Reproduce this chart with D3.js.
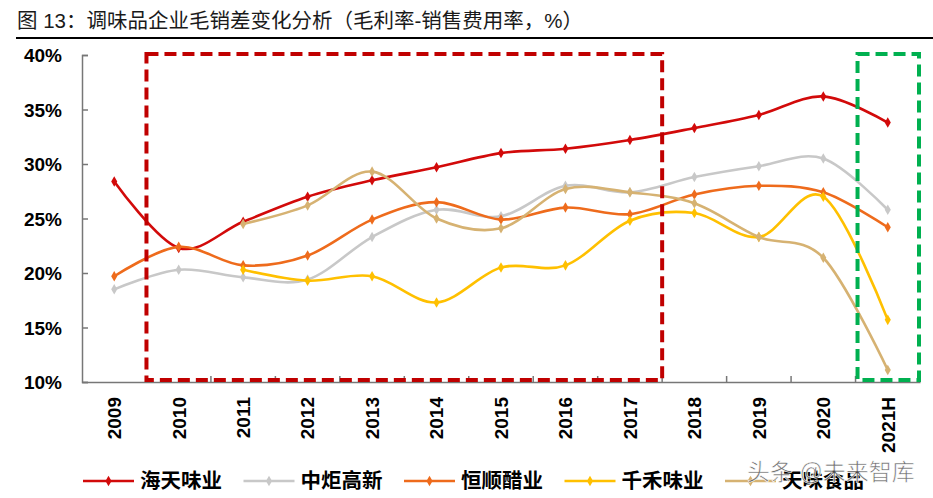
<!DOCTYPE html>
<html>
  <head>
    <meta charset="utf-8">
    <style>
      body { margin: 0; background: #fff; }
      text { font-family: "Liberation Sans", Arial, "Noto Sans CJK SC", sans-serif; }
    </style>
  </head>
  <body>
    <script src="https://d3js.org/d3.v7.min.js"></script>
    <script>
      // data
      var years = ["2009", "2010", "2011", "2012", "2013", "2014", "2015", "2016", "2017", "2018", "2019", "2020", "2021H"];
      var haitian = [28.4, 22.3, 24.7, 27.0, 28.5, 29.7, 31.0, 31.4, 32.2, 33.3, 34.5, 36.2, 33.8];
      var zhongju = [18.5, 20.3, 19.6, 19.4, 23.3, 25.8, 25.2, 28.0, 27.4, 28.8, 29.8, 30.5, 25.8];
      var hengshun = [19.7, 22.4, 20.7, 21.6, 24.9, 26.5, 24.9, 26.0, 25.4, 27.2, 28.0, 27.4, 24.2];
      var qianhe = [null, null, 20.3, 19.3, 19.7, 17.3, 20.5, 20.7, 24.8, 25.5, 23.3, 27.0, 15.7];
      var tianwei = [null, null, 24.5, 26.2, 29.3, 25.0, 24.1, 27.7, 27.4, 26.4, 23.3, 21.4, 11.1];
      var yTicks = [10, 15, 20, 25, 30, 35, 40];

      var series = [
        { name: "海天味业", values: haitian, color: "#D20A0A" },
        { name: "中炬高新", values: zhongju, color: "#C8C8C8" },
        { name: "恒顺醋业", values: hengshun, color: "#EE6B1C" },
        { name: "千禾味业", values: qianhe, color: "#FFC000" },
        { name: "天味食品", values: tianwei, color: "#D6B272" }
      ];

      var W = 933, H = 498;
      var svg = d3.select("body").append("svg")
        .attr("width", W).attr("height", H);

      // title
      svg.append("text")
        .attr("x", 17).attr("y", 28)
        .style("font-size", "20.5px")
        .style("fill", "#1a1a1a")
        .text("图 13：调味品企业毛销差变化分析（毛利率-销售费用率，%）");
      svg.append("line")
        .attr("x1", 16).attr("x2", 933)
        .attr("y1", 38).attr("y2", 38)
        .style("stroke", "#000").style("stroke-width", 2);

      var x = d3.scaleBand().domain(years).range([82, 920]);
      var y = d3.scaleLinear().domain([10, 40]).range([382, 55]);

      // y axis
      var yAxis = svg.append("g").attr("transform", "translate(82,0)")
        .call(d3.axisRight(y).tickValues(yTicks).tickSize(6).tickFormat(function(d){ return d + "%"; }));
      yAxis.select(".domain").style("stroke", "#777").style("stroke-width", 1.5);
      yAxis.selectAll(".tick line").style("stroke", "#777").style("stroke-width", 1.5);
      yAxis.selectAll(".tick text")
        .attr("x", -20).attr("dy", "0.36em")
        .style("text-anchor", "end")
        .style("font-size", "19px").style("font-weight", "bold").style("fill", "#000");

      // x axis
      var xAxis = svg.append("g").attr("transform", "translate(0,382)")
        .call(d3.axisBottom(x).tickSize(0).tickSizeOuter(0));
      xAxis.select(".domain").style("stroke", "#777").style("stroke-width", 1.5);
      xAxis.selectAll(".tick text")
        .attr("transform", "rotate(-90)")
        .attr("x", -15).attr("y", 0).attr("dy", "0.36em")
        .style("text-anchor", "end")
        .style("font-size", "19px").style("font-weight", "bold").style("fill", "#000");
      // boundary ticks pointing up
      svg.append("g").selectAll("line")
        .data(years.slice(1))
        .enter().append("line")
        .attr("x1", function(d){ return x(d); }).attr("x2", function(d){ return x(d); })
        .attr("y1", 382).attr("y2", 376)
        .style("stroke", "#777").style("stroke-width", 1.5);

      // lines
      var line = d3.line()
        .defined(function(d){ return d.v != null; })
        .x(function(d){ return x(d.year) + x.bandwidth() / 2; })
        .y(function(d){ return y(d.v); })
        .curve(d3.curveCatmullRom.alpha(0));

      var diamond = d3.symbol().type(d3.symbolDiamond).size(32);

      series.forEach(function(s){
        var pts = years.map(function(yr, i){ return { year: yr, v: s.values[i] }; });
        svg.append("path")
          .datum(pts.filter(function(d){ return d.v != null; }))
          .attr("d", line)
          .style("fill", "none")
          .style("stroke", s.color)
          .style("stroke-width", 2.6);
        svg.append("g").selectAll("path")
          .data(pts.filter(function(d){ return d.v != null; }))
          .enter().append("path")
          .attr("d", diamond)
          .attr("transform", function(d){ return "translate(" + (x(d.year) + x.bandwidth() / 2) + "," + y(d.v) + ")"; })
          .style("fill", s.color);
      });

      // highlight boxes
      svg.append("rect")
        .attr("x", x("2010")).attr("y", y(40) - 1)
        .attr("width", x("2018") - x("2010")).attr("height", y(10) - y(40) - 1)
        .style("fill", "none").style("stroke", "#C00000")
        .style("stroke-width", 4).style("stroke-dasharray", "12,6");
      svg.append("rect")
        .attr("x", x("2021H") + 2).attr("y", y(40) - 1)
        .attr("width", x.bandwidth() - 3).attr("height", y(10) - y(40) - 1)
        .style("fill", "none").style("stroke", "#00B050")
        .style("stroke-width", 4).style("stroke-dasharray", "12,6");

      // legend
      var legend = svg.append("g").attr("transform", "translate(83,481)");
      series.forEach(function(s, i){
        var g = legend.append("g").attr("transform", "translate(" + (i * 160.5) + ",0)");
        g.append("line").attr("x1", 0).attr("x2", 51).attr("y1", 0).attr("y2", 0)
          .style("stroke", s.color).style("stroke-width", 2.6);
        g.append("path").attr("d", diamond).attr("transform", "translate(25.5,0)").style("fill", s.color);
        g.append("text").attr("x", 57).attr("y", 0).attr("dy", "0.36em")
          .style("font-size", "20.5px").style("font-weight", "bold").style("fill", "#000")
          .text(s.name);
      });

      // watermark
      svg.append("text")
        .attr("x", 747).attr("y", 480)
        .style("font-size", "23px")
        .style("fill", "#555").style("fill-opacity", 0.85)
        .style("stroke", "#fff").style("stroke-width", 0.6)
        .text("头条 @未来智库");
    </script>
  </body>
</html>
